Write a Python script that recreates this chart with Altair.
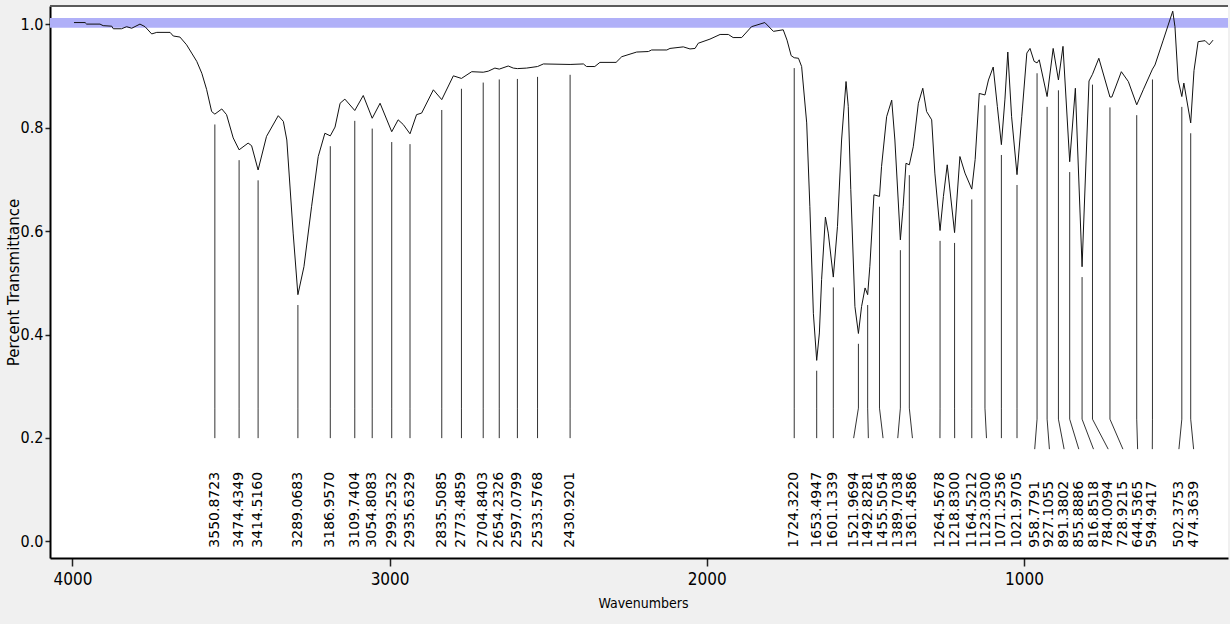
import altair as alt
import pandas as pd

# ---------------- data ----------------
# spectrum trace between the labelled peaks (wavenumber cm-1, transmittance)
CURVE_WN = [3995, 3960, 3955, 3913, 3903, 3876, 3871, 3845, 3829, 3813, 3787, 3771, 3750, 3734, 3692, 3682, 3661, 3640, 3624, 3608, 3592, 3577, 3561,
            3529, 3514, 3493,
            3446, 3435,
            3388, 3351, 3335, 3324, 3304,
            3270, 3246, 3225, 3204,
            3172, 3156, 3141,
            3083, 3030, 2973, 2957, 2915, 2899, 2862, 2799, 2741, 2689, 2668, 2626, 2610, 2568, 2515,
            2389, 2379, 2353, 2337, 2286, 2268, 2221, 2184, 2174, 2126, 2116, 2074, 2053, 2037, 2027, 1990, 1958, 1932, 1917, 1890, 1859, 1817, 1790, 1759, 1747, 1734,
            1711, 1701, 1685, 1675, 1664,
            1645, 1638, 1626, 1617,
            1588, 1575, 1561, 1554, 1546, 1533,
            1512, 1501,
            1486, 1473,
            1449, 1433, 1417, 1407,
            1381, 1372,
            1349, 1333, 1319, 1307, 1291, 1281,
            1254, 1242,
            1202, 1186,
            1154, 1141,
            1112, 1097, 1084,
            1060, 1051, 1039,
            1007, 991, 981, 968,
            952, 908, 877, 838, 795, 764,
            723, 693, 671,
            624,
            587, 561, 531, 524, 514,
            496,
            464, 451, 429, 416, 404]
CURVE_T = [1.003, 1.003, 1.000, 1.000, 0.997, 0.996, 0.991, 0.991, 0.995, 0.992, 1.000, 0.995, 0.981, 0.984, 0.984, 0.977, 0.975, 0.960, 0.944, 0.928, 0.905, 0.874, 0.831,
           0.836, 0.825, 0.780,
           0.770, 0.765,
           0.783, 0.823, 0.812, 0.776, 0.596,
           0.531, 0.647, 0.744, 0.789,
           0.801, 0.847, 0.855,
           0.862, 0.847, 0.815, 0.806, 0.825, 0.828, 0.873, 0.900, 0.908, 0.909, 0.915, 0.919, 0.915, 0.915, 0.923,
           0.923, 0.918, 0.918, 0.926, 0.926, 0.937, 0.946, 0.947, 0.950, 0.950, 0.953, 0.956, 0.952, 0.953, 0.963, 0.971, 0.980, 0.980, 0.974, 0.974, 0.995, 1.003, 0.986, 0.989, 0.969, 0.939,
           0.934, 0.918, 0.809, 0.647, 0.441,
           0.403, 0.506, 0.627, 0.596,
           0.609, 0.776, 0.889, 0.841, 0.680, 0.454,
           0.454, 0.490,
           0.531, 0.670,
           0.725, 0.821, 0.853, 0.776,
           0.647, 0.731,
           0.763, 0.847, 0.876, 0.831, 0.815, 0.712,
           0.667, 0.728,
           0.744, 0.712,
           0.738, 0.866,
           0.892, 0.917, 0.841,
           0.855, 0.946, 0.821,
           0.821, 0.944, 0.953, 0.928,
           0.931, 0.953, 0.957, 0.876, 0.890, 0.934,
           0.859, 0.908, 0.889,
           0.873,
           0.921, 0.969, 1.025, 0.995, 0.892,
           0.886,
           0.910, 0.966, 0.968, 0.960, 0.969]

# labelled peaks and the transmittance of the trace at each of them
PEAK_WN = [3550.8723, 3474.4349, 3414.5160, 3289.0683, 3186.9570, 3109.7404, 3054.8083, 2993.2532,
           2935.6329, 2835.5085, 2773.4859, 2704.8403, 2654.2326, 2597.0799, 2533.5768, 2430.9201,
           1724.3220, 1653.4947, 1601.1339, 1521.9694, 1492.8281, 1455.5054, 1389.7038, 1361.4586,
           1264.5678, 1218.8300, 1164.5212, 1123.0300, 1071.2536, 1021.9705, 958.7791, 927.1055,
           891.3802, 855.8886, 816.8518, 784.0094, 728.9215, 644.5365, 594.9417, 502.3753, 474.3639]
PEAK_T = [0.826, 0.757, 0.718, 0.477, 0.784, 0.833, 0.818, 0.792,
          0.788, 0.854, 0.895, 0.907, 0.913, 0.914, 0.918, 0.922,
          0.935, 0.350, 0.511, 0.402, 0.477, 0.667, 0.583, 0.728,
          0.601, 0.597, 0.681, 0.863, 0.767, 0.709, 0.925, 0.860,
          0.892, 0.734, 0.531, 0.903, 0.859, 0.844, 0.913, 0.860, 0.809]

BAND = [0.993, 1.012]               # highlighted 100 % band
X_TICKS = [4000, 3000, 2000, 1000]
Y_TICKS = [0.0, 0.2, 0.4, 0.6, 0.8, 1.0]
X_DOMAIN = [356.8, 4070.6]
Y_DOMAIN = [-0.032, 1.035]

# ---------------- layout ----------------
W, H = 1178, 552
NARROW = "Liberation Sans Narrow, Arial Narrow, DejaVu Sans Condensed, sans-serif"
LABEL_FONT = "DejaVu Sans"
LABEL_BASE = -0.012      # where the rotated labels start
GAP_PX = 14.7            # minimum spacing between labels
CLUSTER_MARGIN = 3.0     # extra room kept before a shifted cluster
CHAR_V = 0.0213          # label length per character (in T units)
LINE_GAP = 0.02          # gap between trace and leader line
BEND = 0.058             # height of the slanted part of a leader

k = W / (X_DOMAIN[1] - X_DOMAIN[0])
px = [(X_DOMAIN[1] - w) * k for w in PEAK_WN]
n = len(px)
lab = px[:]
pushed = [False] * n
for i in range(1, n):
    if lab[i - 1] + GAP_PX > px[i]:
        lab[i] = lab[i - 1] + GAP_PX
        pushed[i] = True
i = 0
while i < n:
    j = i + 1
    while j < n and pushed[j]:
        j += 1
    if j - i > 1:
        shift = sum(lab[m] - px[m] for m in range(i, j)) / (j - i)
        if i > 0:
            shift = min(shift, lab[i] - (lab[i - 1] + GAP_PX + CLUSTER_MARGIN))
        shift = max(shift, 0.0)
        for m in range(i, j):
            lab[m] -= shift
    i = j

labels = [f"{w:.4f}" for w in PEAK_WN]
peaks = pd.DataFrame({
    "wn": PEAK_WN,
    "T": PEAK_T,
    "lwn": [X_DOMAIN[1] - p / k for p in lab],
    "label": labels,
})
peaks["top"] = peaks["T"] - LINE_GAP
peaks["end"] = [LABEL_BASE + len(s) * CHAR_V + LINE_GAP for s in labels]
peaks["bend"] = peaks["end"] + BEND
peaks["base"] = LABEL_BASE

curve = pd.concat([
    pd.DataFrame({"wn": CURVE_WN, "T": CURVE_T}),
    peaks[["wn", "T"]],
]).sort_values("wn", ascending=False).reset_index(drop=True)

XS = alt.Scale(domain=X_DOMAIN, reverse=True, nice=False, zero=False)
YS = alt.Scale(domain=Y_DOMAIN, nice=False, zero=False)
XA = alt.Axis(values=X_TICKS, format="d", title="Wavenumbers", grid=False)
YA = alt.Axis(values=Y_TICKS, format=".1f", title="Percent Transmittance", grid=False)

band = alt.Chart(pd.DataFrame({"lo": [BAND[0]], "hi": [BAND[1]]})).mark_rect(color="#b0b0f8").encode(
    x=alt.value(0), x2=alt.value(W),
    y=alt.Y("lo:Q", scale=YS, axis=YA), y2="hi:Q",
)

line = alt.Chart(curve).mark_line(color="#111111", strokeWidth=1).encode(
    x=alt.X("wn:Q", scale=XS, axis=XA),
    y=alt.Y("T:Q", scale=YS, axis=YA),
    order=alt.Order("wn:Q", sort="descending"),
)

lead_v = alt.Chart(peaks).mark_rule(color="#333333", strokeWidth=1).encode(
    x=alt.X("wn:Q", scale=XS, axis=XA),
    y=alt.Y("top:Q", scale=YS, axis=YA), y2="bend:Q",
)
lead_d = alt.Chart(peaks).mark_rule(color="#333333", strokeWidth=1).encode(
    x=alt.X("wn:Q", scale=XS, axis=XA), x2="lwn:Q",
    y=alt.Y("bend:Q", scale=YS, axis=YA), y2="end:Q",
)
text = alt.Chart(peaks).mark_text(
    angle=270, align="left", baseline="middle", font=LABEL_FONT, fontSize=14, color="black"
).encode(
    x=alt.X("lwn:Q", scale=XS, axis=XA),
    y=alt.Y("base:Q", scale=YS, axis=YA),
    text="label:N",
)

frame_top = alt.Chart(pd.DataFrame({"a": [0]})).mark_rule(color="#5a5a5a", strokeWidth=2).encode(
    x=alt.value(0), x2=alt.value(W), y=alt.value(0)
)

chart = alt.layer(band, line, lead_v, lead_d, text, frame_top).properties(
    width=W, height=H, background="#f0f0f0",
    padding={"left": 50, "top": 6, "right": 2, "bottom": 66},
    autosize=alt.AutoSizeParams(type="none"),
).configure_view(fill="white", strokeWidth=0).configure_axis(
    domainColor="black", domainWidth=2, tickColor="#222222", tickWidth=1.5,
    labelColor="black", titleColor="black", titleFontWeight="normal", labelFont=NARROW,
).configure_axisX(
    tickSize=8, labelFontSize=17, labelPadding=5,
    titleFont=NARROW, titleFontSize=14, titleX=593, titleY=45, titleBaseline="middle",
).configure_axisY(
    tickSize=5, labelFontSize=16, labelPadding=2,
    titleFont="DejaVu Sans", titleFontSize=15, titleX=-37, titleY=276,
    titleAngle=270, titleAlign="center", titleBaseline="middle",
)

chart.save("out.html", embed_options={"renderer": "svg", "actions": False})
